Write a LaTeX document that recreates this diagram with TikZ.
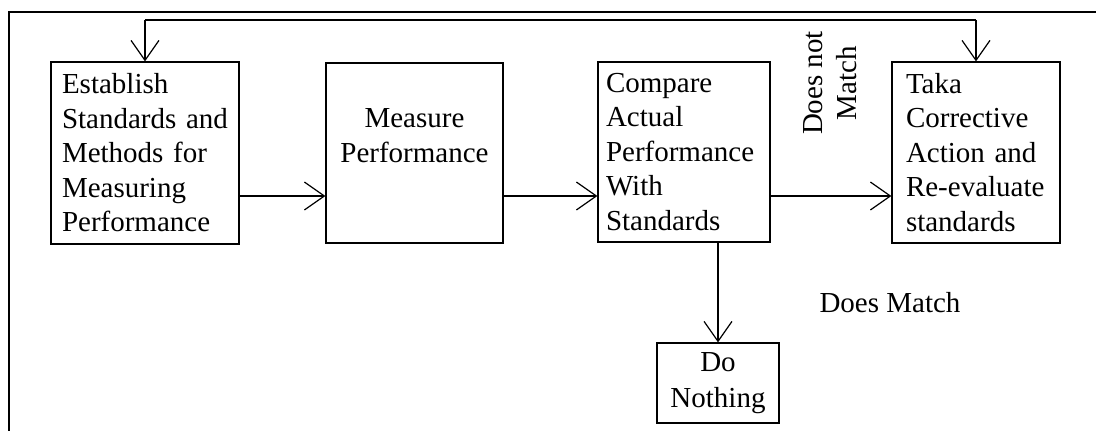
\documentclass[tikz,border=0pt]{standalone}
\usepackage{fontspec}
\setmainfont{Liberation Serif}
\usetikzlibrary{arrows.meta, positioning}

\begin{document}
\begin{tikzpicture}[x=1pt,y=1pt,font=\fontsize{29}{34.5}\selectfont,
  stage/.style={draw, line width=1.2pt, inner ysep=0pt, align=left},
  flow/.style={line width=1.2pt, -{Straight Barb[length=20pt,width=28pt,line width=1.2pt]}}]
\useasboundingbox (0,0) rectangle (1096,431);
\draw[line width=1.6pt] (9,0) -- (9,419) -- (1096,419);
\node[stage, inner xsep=11pt, text width=166pt, minimum height=182pt] (establish) at (145,278) {Establish\\Standards and\\Methods for\\Measuring\\Performance};
\node[stage, align=center, inner xsep=8pt, text width=161pt, minimum height=180pt] (measure) at (414.5,278) {Measure\\Performance\\ \mbox{}};
\node[stage, inner xsep=8pt, text width=156pt, minimum height=180pt] (compare) at (684,279) {Compare\\Actual\\Performance\\With\\Standards};
\node[stage, inner xsep=14pt, text width=140pt, minimum height=181pt] (act) at (976,278.5) {Taka\\Corrective\\Action and\\Re-evaluate\\standards};
\node[stage, align=center, inner xsep=8pt, text width=106pt, minimum height=80pt, font=\fontsize{29}{36}\selectfont] (nothing) at (718,48) {Do\\Nothing};
\node[rotate=90, align=center] (nomatch) at (830,348) {Does not\\Match};
\node (match) at (890,128) {Does Match};
\coordinate (loop) at (0,411);
\coordinate (flowline) at (0,235);
\draw[line width=1.2pt] (establish.north |- loop) -- (act.north |- loop);
\draw[flow] (establish.north |- loop) -- (establish.north);
\draw[flow] (act.north |- loop) -- (act.north);
\draw[flow] (establish.east |- flowline) -- (measure.west |- flowline);
\draw[flow] (measure.east |- flowline) -- (compare.west |- flowline);
\draw[flow] (compare.east |- flowline) -- (act.west |- flowline);
\draw[flow] (nothing.north |- compare.south) -- (nothing.north);
\end{tikzpicture}
\end{document}
